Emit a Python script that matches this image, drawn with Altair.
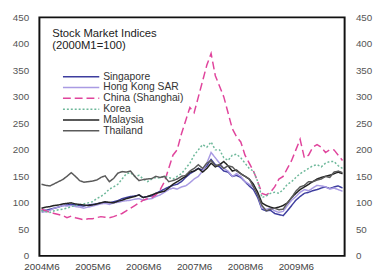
import altair as alt
import pandas as pd

series_names = ["Singapore", "Hong Kong SAR", "China (Shanghai)", "Korea", "Malaysia", "Thailand"]
series_colors = ["#3d3d9e", "#a99be3", "#e0449c", "#6db89a", "#222222", "#5a5a5a"]
series_dashes = [[1, 0], [1, 0], [8, 4], [2, 2], [1, 0], [1, 0]]
series_widths = [1.5, 1.5, 1.8, 1.6, 1.7, 1.7]

# monthly, 2004M6 .. 2010M5
singapore = [85, 86, 88, 90, 92, 95, 96, 97, 96, 95, 94, 96,
             97, 98, 100, 101, 100, 102, 104, 108, 110, 112, 113, 115,
             110, 112, 113, 118, 122, 126, 130, 133, 135, 140, 148, 155,
             160, 165, 162, 170, 182, 172, 168, 160, 158, 150, 152, 148,
             140, 132, 125, 110, 88, 85, 86, 80, 78, 76, 85, 95,
             105, 112, 118, 120, 123, 125, 128, 130, 127, 130, 132, 128]
hongkong = [82, 84, 86, 90, 92, 95, 94, 95, 93, 92, 90, 92,
            94, 96, 98, 99, 97, 100, 101, 103, 104, 105, 107, 108,
            105, 107, 108, 112, 115, 120, 125, 128, 126, 130, 132, 138,
            145, 150, 160, 175, 195, 185, 175, 165, 160, 150, 155, 150,
            140, 135, 130, 115, 90, 88, 90, 85, 82, 84, 95, 105,
            112, 120, 125, 123, 128, 133, 132, 130, 126, 128, 125, 122]
china = [88, 85, 82, 80, 78, 76, 72, 75, 72, 70, 68, 70,
         70, 72, 74, 73, 72, 74, 77, 80, 85, 90, 95, 100,
         105, 108, 110, 115, 125, 140, 165, 190, 200, 230, 255, 280,
         270, 300, 330, 360, 382, 340, 320, 300, 270, 240, 225, 215,
         190, 175, 160, 140, 118, 115, 120, 130, 145, 150, 165, 180,
         200, 220, 185, 190, 205, 210, 205, 195, 200, 200, 190, 180]
korea = [85, 83, 82, 85, 87, 88, 90, 93, 95, 97, 98, 100,
         102, 108, 112, 118, 126, 130, 135, 145, 155, 157, 150, 152,
         145, 140, 145, 148, 147, 150, 148, 145, 150, 155, 165, 175,
         190, 200, 210, 205, 215, 200, 200, 185, 180, 190, 192, 185,
         175, 165, 160, 140, 110, 113, 118, 120, 118, 125, 135, 140,
         148, 155, 160, 165, 170, 172, 168, 175, 178, 178, 170, 165]
malaysia = [90, 92, 93, 95, 96, 98, 99, 100, 98, 97, 96, 95,
            96, 98, 100, 102, 101, 100, 103, 105, 108, 110, 112, 115,
            110, 112, 115, 118, 120, 122, 128, 135, 140, 145, 150, 158,
            160, 165, 158, 165, 175, 168, 172, 178, 170, 160, 162, 155,
            150, 145, 135, 120, 100, 95, 92, 90, 92, 95, 100, 110,
            118, 125, 130, 135, 140, 145, 148, 150, 152, 155, 158, 155]
thailand = [135, 133, 132, 136, 140, 144, 150, 157, 150, 142, 139, 140,
            141, 143, 148, 151, 140, 146, 156, 159, 158, 160, 150, 142,
            144, 145, 146, 150, 148, 150, 140, 142, 145, 150, 152, 160,
            165, 172, 165, 175, 180, 170, 172, 165, 170, 168, 160, 155,
            150, 145, 130, 115, 95, 85, 88, 90, 87, 88, 100, 110,
            122, 130, 133, 140, 140, 143, 145, 150, 148, 158, 160, 157]

tick_idx = [0, 12, 24, 36, 48, 60]
tick_labels = ["2004M6", "2005M6", "2006M6", "2007M6", "2008M6", "2009M6"]

values = [singapore, hongkong, china, korea, malaysia, thailand]
rows = []
for name, vals in zip(series_names, values):
    for i, v in enumerate(vals):
        rows.append({"idx": i, "value": v, "series": name})
df = pd.DataFrame(rows)

label_expr = "{" + ",".join(f"'{i}':'{l}'" for i, l in zip(tick_idx, tick_labels)) + "}[datum.value + '']"

x = alt.X("idx:Q", scale=alt.Scale(domain=[-0.5, 71.5], nice=False, zero=False),
          axis=alt.Axis(values=tick_idx, labelExpr=label_expr, title=None, ticks=False,
                        domain=False, grid=False, labelPadding=6, labelFontSize=10,
                        labelColor="#444", labelFont="Liberation Sans"))
yscale = alt.Scale(domain=[0, 450], nice=False)

lines = alt.Chart(df).mark_line().encode(
    x=x,
    y=alt.Y("value:Q", scale=yscale,
            axis=alt.Axis(values=list(range(0, 451, 50)), title=None, ticks=False, domain=False,
                          grid=False, labelPadding=11, labelFontSize=10, labelColor="#555",
                          labelFont="Liberation Sans")),
    color=alt.Color("series:N", scale=alt.Scale(domain=series_names, range=series_colors),
                    legend=alt.Legend(
                        title=["Stock Market Indices", "(2000M1=100)"],
                        orient="none", legendX=13, legendY=11,
                        titleFontSize=11.5, titleFontWeight="normal", titleColor="#222",
                        titleFont="Liberation Sans", titleLineHeight=12, titlePadding=21,
                        symbolType="stroke", symbolSize=1369, clipHeight=10, rowPadding=0,
                        symbolOffset=10, labelOffset=3, labelFontSize=10.5, labelColor="#333",
                        labelFont="Liberation Sans", padding=0)),
    strokeDash=alt.StrokeDash("series:N", scale=alt.Scale(domain=series_names, range=series_dashes)),
    strokeWidth=alt.StrokeWidth("series:N", scale=alt.Scale(domain=series_names, range=series_widths)),
    detail="series:N",
)

right = alt.Chart(df).mark_line(opacity=0).encode(
    x=x,
    y=alt.Y("value:Q", scale=yscale,
            axis=alt.Axis(orient="right", values=list(range(0, 451, 50)), title=None, ticks=False,
                          domain=False, grid=False, labelPadding=11, labelFontSize=10,
                          labelColor="#555", labelFont="Liberation Sans")),
    detail="series:N",
)

chart = alt.layer(lines, right).resolve_scale(y="independent").properties(
    width=311, height=243,
    autosize=alt.AutoSizeParams(type="none"),
    padding={"left": 32, "top": 7, "right": 33, "bottom": 20},
).configure_view(stroke="#111", strokeWidth=2)

chart.save("out.html", embed_options={"renderer": "svg", "actions": False})
